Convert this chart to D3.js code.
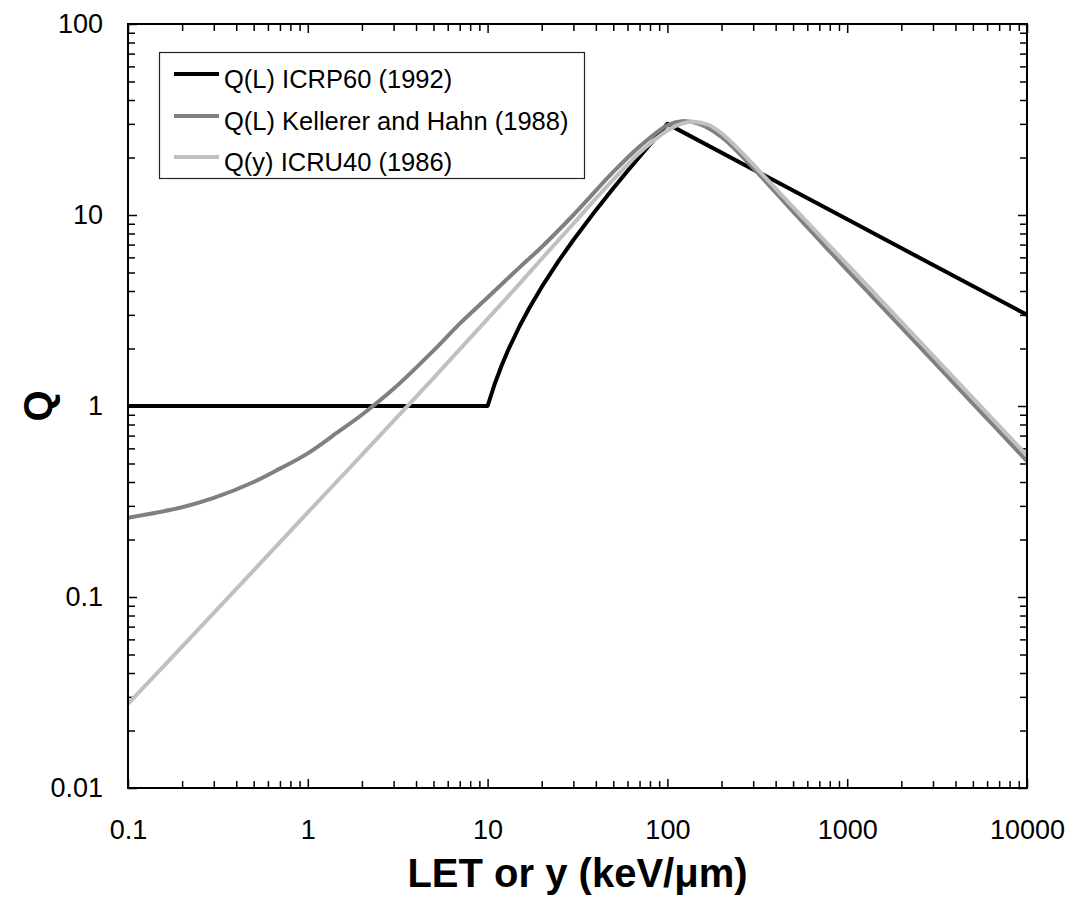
<!DOCTYPE html>
<html>
<head>
<meta charset="utf-8">
<script src="https://cdn.jsdelivr.net/npm/d3@7"></script>
<style>
  html, body { margin: 0; padding: 0; background: #fff; }
  svg { display: block; font-family: "Liberation Sans", Arial, sans-serif; }
</style>
</head>
<body>
<svg id="chart" width="1074" height="898"></svg>
<script>
// Quality factor Q as a function of LET (or lineal energy y)

// ICRP60 (1992): Q(L)
const letICRP = [0.1, 10, 11, 12, 13, 15, 17, 20, 25, 30, 40, 50, 60, 70, 80, 90, 100, 1000, 10000];
const qICRP   = [1, 1, 1.32, 1.64, 1.96, 2.6, 3.24, 4.2, 5.8, 7.4, 10.6, 13.8, 17.0, 20.2, 23.4, 26.6, 30, 9.49, 3.0];

// Kellerer and Hahn (1988): Q(L)
const letKH = [0.1, 0.2, 0.3, 0.5, 0.7, 1, 1.5, 2, 3, 5, 7, 10, 15, 20, 30, 50, 70, 100, 120, 150, 200, 300, 500, 1000, 2000, 5000, 10000];
const qKH   = [0.26, 0.295, 0.33, 0.40, 0.47, 0.565, 0.74, 0.90, 1.23, 1.95, 2.7, 3.7, 5.3, 6.8, 10.0, 16.8, 22.8, 29.5, 31.0, 30.0, 25.6, 17.6, 10.4, 5.15, 2.58, 1.03, 0.515];

// ICRU40 (1986): Q(y)
const yICRU = [0.1, 0.2, 0.5, 1, 2, 3, 5, 7, 10, 15, 20, 30, 40, 50, 70, 100, 120, 140, 170, 200, 250, 300, 500, 1000, 2000, 5000, 10000];
const qICRU = [0.0276, 0.055, 0.138, 0.277, 0.555, 0.836, 1.40, 1.98, 2.86, 4.35, 5.9, 9.0, 12.2, 15.3, 21.2, 27.7, 30.1, 30.8, 29.6, 26.8, 22.0, 18.4, 11.0, 5.51, 2.76, 1.10, 0.551];

const seriesNames  = ["Q(L) ICRP60 (1992)", "Q(L) Kellerer and Hahn (1988)", "Q(y) ICRU40 (1986)"];
const seriesColors = ["#000000", "#808080", "#c0c0c0"];

const xMajor = [0.1, 1, 10, 100, 1000, 10000];
const xMajorLabels = ["0.1", "1", "10", "100", "1000", "10000"];
const yMajor = [0.01, 0.1, 1, 10, 100];
const yMajorLabels = ["0.01", "0.1", "1", "10", "100"];

const xTitle = "LET or y (keV/\u03BCm)";
const yTitle = "Q";

// layout
const plotLeft = 128, plotRight = 1027, plotTop = 24, plotBottom = 788;

const svg = d3.select("#chart");
const x = d3.scaleLog().domain([0.1, 10000]).range([plotLeft, plotRight]);
const y = d3.scaleLog().domain([0.01, 100]).range([plotBottom, plotTop]);

// minor tick positions: 2..9 within each decade
function minors(lo, hi) {
  const out = [];
  for (let e = Math.round(Math.log10(lo)); e < Math.round(Math.log10(hi)); e++) {
    for (let k = 2; k <= 9; k++) out.push(k * Math.pow(10, e));
  }
  return out;
}
const xMinor = minors(0.1, 10000);
const yMinor = minors(0.01, 100);

function styleAxis(g) {
  g.select(".domain").remove();
  g.selectAll(".tick line").attr("stroke", "#000").attr("stroke-width", 1.5);
}

const labelFont = "Liberation Sans, Arial, sans-serif";

// bottom axis with labels
svg.append("g").attr("transform", `translate(0,${plotBottom})`)
  .call(d3.axisBottom(x).tickValues(xMajor).tickSize(-9).tickPadding(32)
        .tickFormat((d, i) => xMajorLabels[i]))
  .call(styleAxis)
  .call(g => g.selectAll("text").attr("font-size", 27).attr("fill", "#000")
        .attr("font-family", labelFont));
svg.append("g").attr("transform", `translate(0,${plotBottom})`)
  .call(d3.axisBottom(x).tickValues(xMinor).tickSize(-7).tickFormat(""))
  .call(styleAxis);

// top axis ticks
svg.append("g").attr("transform", `translate(0,${plotTop})`)
  .call(d3.axisTop(x).tickValues(xMajor).tickSize(-9).tickFormat(""))
  .call(styleAxis);
svg.append("g").attr("transform", `translate(0,${plotTop})`)
  .call(d3.axisTop(x).tickValues(xMinor).tickSize(-7).tickFormat(""))
  .call(styleAxis);

// left axis with labels
svg.append("g").attr("transform", `translate(${plotLeft},0)`)
  .call(d3.axisLeft(y).tickValues(yMajor).tickSize(-9).tickPadding(25)
        .tickFormat((d, i) => yMajorLabels[i]))
  .call(styleAxis)
  .call(g => g.selectAll("text").attr("font-size", 27).attr("fill", "#000")
        .attr("font-family", labelFont));
svg.append("g").attr("transform", `translate(${plotLeft},0)`)
  .call(d3.axisLeft(y).tickValues(yMinor).tickSize(-7).tickFormat(""))
  .call(styleAxis);

// right axis ticks
svg.append("g").attr("transform", `translate(${plotRight},0)`)
  .call(d3.axisRight(y).tickValues(yMajor).tickSize(-9).tickFormat(""))
  .call(styleAxis);
svg.append("g").attr("transform", `translate(${plotRight},0)`)
  .call(d3.axisRight(y).tickValues(yMinor).tickSize(-7).tickFormat(""))
  .call(styleAxis);

// curves
const series = [
  { xs: letICRP, ys: qICRP, curve: d3.curveLinear },
  { xs: letKH,   ys: qKH,   curve: d3.curveCatmullRom.alpha(0.5) },
  { xs: yICRU,   ys: qICRU, curve: d3.curveCatmullRom.alpha(0.5) }
];
series.forEach((s, i) => {
  const pts = s.xs.map((v, j) => [v, s.ys[j]]);
  const line = d3.line().x(d => x(d[0])).y(d => y(d[1])).curve(s.curve);
  svg.append("path").datum(pts)
    .attr("d", line)
    .attr("fill", "none")
    .attr("stroke", seriesColors[i])
    .attr("stroke-width", 4)
    .attr("stroke-linejoin", "round");
});

// plot frame
svg.append("rect")
  .attr("x", plotLeft).attr("y", plotTop)
  .attr("width", plotRight - plotLeft).attr("height", plotBottom - plotTop)
  .attr("fill", "none").attr("stroke", "#000").attr("stroke-width", 2);

// legend
const legend = svg.append("g");
legend.append("rect")
  .attr("x", 159.5).attr("y", 52.5).attr("width", 425).attr("height", 126)
  .attr("fill", "#fff").attr("stroke", "#222").attr("stroke-width", 1.2);
const baselines = [88, 130, 171];
seriesNames.forEach((name, i) => {
  legend.append("line")
    .attr("x1", 174).attr("x2", 219)
    .attr("y1", baselines[i] - 14).attr("y2", baselines[i] - 14)
    .attr("stroke", seriesColors[i]).attr("stroke-width", 4);
  legend.append("text")
    .attr("x", 224).attr("y", baselines[i])
    .attr("font-size", 25.5).attr("fill", "#000")
    .text(name);
});

// axis titles
svg.append("text")
  .attr("x", (plotLeft + plotRight) / 2).attr("y", 887)
  .attr("text-anchor", "middle")
  .attr("font-size", 40).attr("font-weight", "bold")
  .text(xTitle);
svg.append("text")
  .attr("transform", `translate(52,${y(1)}) rotate(-90)`)
  .attr("text-anchor", "middle")
  .attr("font-size", 40).attr("font-weight", "bold")
  .text(yTitle);
</script>
</body>
</html>
